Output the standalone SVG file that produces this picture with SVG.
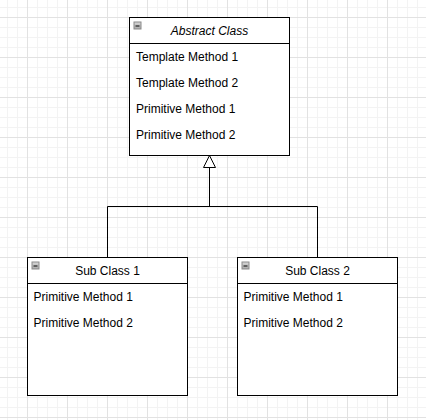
<svg xmlns="http://www.w3.org/2000/svg" width="426" height="420" viewBox="0 0 426 420">
  <defs>
    <pattern id="grid" patternUnits="userSpaceOnUse" x="27" y="17" width="40" height="40">
      <path d="M10.5 0V40M20.5 0V40M30.5 0V40M0 10.5H40M0 20.5H40M0 30.5H40" stroke="#f3f3f3" stroke-width="1" fill="none"/>
      <path d="M0.5 0V40M0 0.5H40" stroke="#e2e2e2" stroke-width="1" fill="none"/>
    </pattern>
    <linearGradient id="btn" x1="0" y1="0" x2="0" y2="1">
      <stop offset="0" stop-color="#d8d8d8"/>
      <stop offset="1" stop-color="#a8a8a8"/>
    </linearGradient>
    <g id="collapse">
      <rect x="0.5" y="0.5" width="7" height="7" fill="url(#btn)" stroke="#8a8a8a" stroke-width="1"/>
      <path d="M2 4.5H6" stroke="#222" stroke-width="1.2"/>
    </g>
  </defs>
  <style>
    .box { fill: #ffffff; stroke: #000000; stroke-width: 1; }
    .sep { stroke: #000000; stroke-width: 1; fill: none; }
    .t { font-family: "Liberation Sans", Arial, sans-serif; font-size: 12px; fill: #000000; }
    .title { text-anchor: middle; }
    .it { font-style: italic; }
    .edge { stroke: #000000; stroke-width: 1; fill: none; }
  </style>
  <rect width="426" height="420" fill="#ffffff"/>
  <rect width="426" height="420" fill="url(#grid)"/>

  <g id="connectors">
    <path class="edge" d="M107.5 257.5V206.5H317.5V257.5"/>
    <path class="edge" d="M209.5 206.5V167.5"/>
    <polygon points="209.5,155.5 203.5,167.5 215.5,167.5" fill="#ffffff" stroke="#000000" stroke-width="1"/>
  </g>

  <g id="abstract-class">
    <rect class="box" x="129.5" y="17.5" width="160" height="138"/>
    <path class="sep" d="M129.5 43.5H289.5"/>
    <use href="#collapse" x="133.5" y="21.5"/>
    <text class="t title it" x="209.5" y="34.5">Abstract Class</text>
    <text class="t" x="136" y="60.5">Template Method 1</text>
    <text class="t" x="136" y="86.5">Template Method 2</text>
    <text class="t" x="136" y="112.5">Primitive Method 1</text>
    <text class="t" x="136" y="138.5">Primitive Method 2</text>
  </g>

  <g id="sub-class-1">
    <rect class="box" x="27.5" y="257.5" width="160" height="138"/>
    <path class="sep" d="M27.5 283.5H187.5"/>
    <use href="#collapse" x="31.5" y="261.5"/>
    <text class="t title" x="107.5" y="274.5">Sub Class 1</text>
    <text class="t" x="33.5" y="300.5">Primitive Method 1</text>
    <text class="t" x="33.5" y="326.5">Primitive Method 2</text>
  </g>

  <g id="sub-class-2">
    <rect class="box" x="237.5" y="257.5" width="160" height="138"/>
    <path class="sep" d="M237.5 283.5H397.5"/>
    <use href="#collapse" x="241.5" y="261.5"/>
    <text class="t title" x="317.5" y="274.5">Sub Class 2</text>
    <text class="t" x="243.5" y="300.5">Primitive Method 1</text>
    <text class="t" x="243.5" y="326.5">Primitive Method 2</text>
  </g>
</svg>
